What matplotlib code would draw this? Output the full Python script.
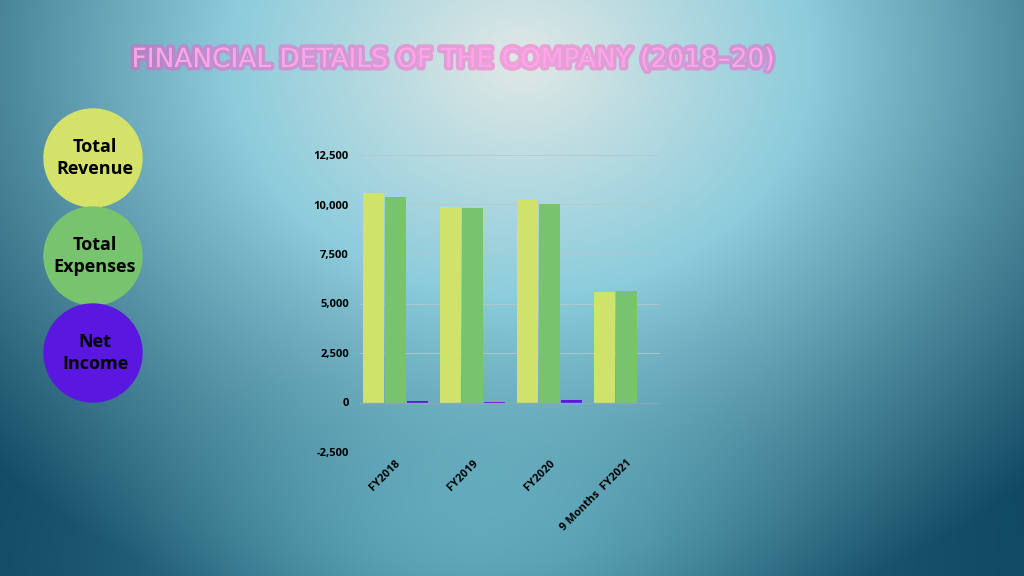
import numpy as np
import matplotlib
matplotlib.use("Agg")
import matplotlib.pyplot as plt
from matplotlib.patches import Circle
import matplotlib.patheffects as pe

categories = ["FY2018", "FY2019", "FY2020", "9 Months  FY2021"]
revenue = [10600, 9850, 10250, 5600]
expenses = [10400, 9830, 10000, 5620]
net_income = [60, 10, 120, -60]
yticks = [-2500, 0, 2500, 5000, 7500, 10000, 12500]

fig = plt.figure(figsize=(10.24, 5.76), dpi=100)
bg = fig.add_axes([0, 0, 1, 1])
H, W = 576, 1024
yy, xx = np.mgrid[0:H, 0:W]
d = np.sqrt(((xx - 520) / 520) ** 2 + ((yy - 60) / 420) ** 2)
t = np.clip(d, 0, 1.4) / 1.4
c0 = np.array([0.88, 0.91, 0.90]); c1 = np.array([0.55, 0.80, 0.86]); c2 = np.array([0.06, 0.28, 0.38])
img = np.where(t[..., None] < 0.4, c0 + (c1 - c0) * (t[..., None] / 0.4),
               c1 + (c2 - c1) * ((t[..., None] - 0.4) / 0.6).clip(0, 1))
glow = np.exp(-(((xx - 470) / 300) ** 2 + ((yy - 560) / 160) ** 2))[..., None]
img = img * (1 - 0.5 * glow) + np.array([0.55, 0.90, 0.95]) * 0.5 * glow
bg.imshow(img, extent=[0, W, H, 0], aspect="auto")
bg.set_xlim(0, W); bg.set_ylim(H, 0); bg.axis("off")

bg.text(453, 60, "FINANCIAL DETAILS OF THE COMPANY (2018–20)", ha="center", va="center",
        fontsize=19, color="#ffa6ea", family="DejaVu Sans Condensed",
        path_effects=[pe.withStroke(linewidth=5, foreground="#ff4fc8", alpha=0.45)])

for cy, col, lab in [(158, "#d4e26a", "Total\nRevenue"), (256, "#78c46e", "Total\nExpenses"),
                     (353, "#5a17e0", "Net\nIncome")]:
    bg.add_patch(Circle((93, cy), 49, color=col))
    bg.text(95, cy, lab, ha="center", va="center", fontsize=13, fontweight="bold",
            color="black", family="Open Sans", linespacing=1.3)

ax = fig.add_axes([360 / W, 1 - 452 / H, 300 / W, (452 - 155) / H])
ax.patch.set_alpha(0)
x = np.arange(len(categories))
w = 0.285
ax.bar(x - w, revenue, w * 0.96, color="#cfe26a")
ax.bar(x, expenses, w * 0.96, color="#78c46e")
ax.bar(x + w, net_income, w * 0.96, color="#5a17e0")
ax.axhline(0, color="#8aa8b0", lw=1)
ax.set_ylim(-2500, 12500)
ax.set_xlim(-0.455, 3.43)
ax.set_yticks(yticks)
ax.set_yticklabels([f"{v:,}" for v in yticks], fontsize=8, fontweight="bold", family="Open Sans")
ax.yaxis.grid(True, color="#b5c8cc", lw=0.6)
ax.set_axisbelow(True)
ax.tick_params(length=0, pad=8)
ax.tick_params(axis="x", pad=4)
ax.set_xticks(x)
ax.set_xticklabels(categories, rotation=45, ha="right", rotation_mode="anchor", fontsize=8,
                   fontweight="bold", family="Open Sans")
for s in ax.spines.values():
    s.set_visible(False)

fig.savefig("out.png", dpi=100)
